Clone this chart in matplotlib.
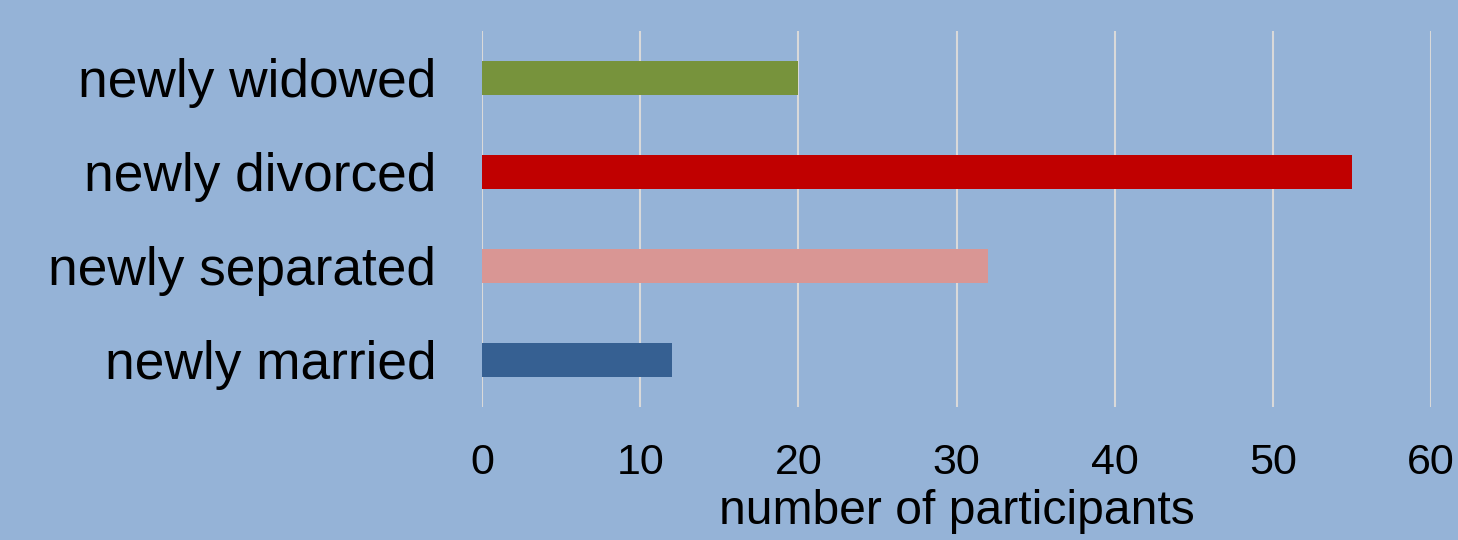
import matplotlib.pyplot as plt

categories = ['newly married', 'newly separated', 'newly divorced', 'newly widowed']
counts = [12, 32, 55, 20]
colors = ['#366092', '#D99694', '#C00000', '#77933C']
xticks = [0, 10, 20, 30, 40, 50, 60]

bg = '#95B3D7'
plt.rcParams['font.family'] = ['Liberation Sans', 'DejaVu Sans']

fig = plt.figure(figsize=(14.58, 5.4), dpi=100, facecolor=bg)
ax = fig.add_axes([0.3306, 0.2463, 0.6509, 0.6963], facecolor=bg)

ax.barh(range(len(categories)), counts, height=0.36, color=colors, zorder=3)
ax.set_xlim(0, 60)
ax.set_ylim(-0.5, 3.5)
ax.set_xticks(xticks)
ax.set_yticks(range(len(categories)))
ax.set_yticklabels(categories, fontsize=38.3)
ax.tick_params(axis='x', labelsize=31, length=0, pad=26)
ax.tick_params(axis='y', length=0, pad=33)
ax.xaxis.grid(True, color='#D9D9D9', linewidth=1.5, zorder=0)
for s in ax.spines.values():
    s.set_visible(False)
ax.set_xlabel('number of participants', fontsize=34.6, labelpad=4)

fig.savefig('out.png', dpi=100, facecolor=bg)
